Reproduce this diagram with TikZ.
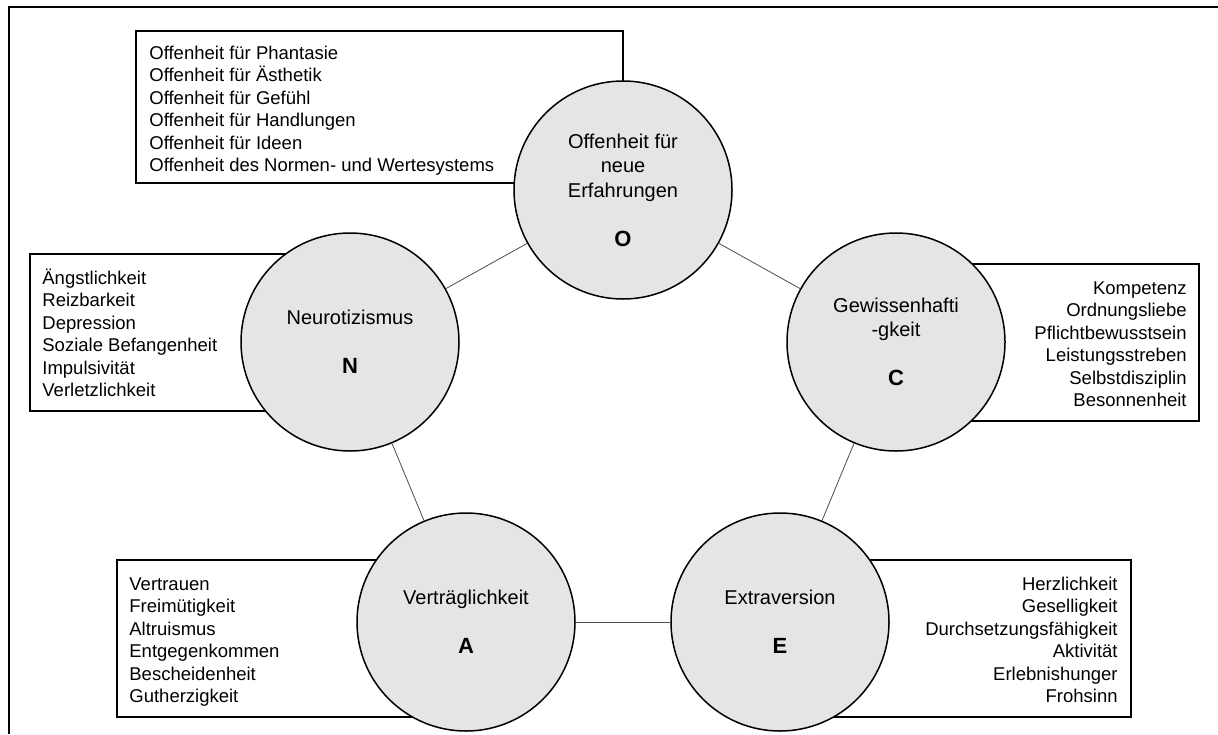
\documentclass[tikz,border=0pt]{standalone}
\usepackage{fontspec}
\setmainfont{Liberation Sans}
\usepackage{tikz}

\begin{document}
\begin{tikzpicture}[
  x=0.5pt, y=-0.5pt,
  font=\fontsize{9.25}{11.2}\selectfont,
  trait/.style={circle, draw, line width=0.75pt, fill=gray!20, minimum size=109pt, inner sep=0pt, align=center, font=\fontsize{10}{12.25}\selectfont},
  facetbox/.style={draw, line width=0.9pt, fill=white},
  facetsl/.style={anchor=north west, align=left, inner sep=0pt},
  facetsr/.style={anchor=north east, align=right, inner sep=0pt},
  link/.style={line width=0.4pt, draw=black!70}
]
\useasboundingbox (0,0) rectangle (1218,734);
\draw[line width=1pt] (9,734) -- (9,7) -- (1218,7);

% facet boxes (partly behind the circles)
\draw[facetbox] (136,31) rectangle (623,183);
\draw[facetbox] (30,254) rectangle (350,411);
\draw[facetbox] (896,264) rectangle (1199,421);
\draw[facetbox] (117,560) rectangle (466,717);
\draw[facetbox] (780,560) rectangle (1131,717);

\node[facetsl] (olist) at (149,41) {\rule{0pt}{9pt}Offenheit für Phantasie\\Offenheit für Ästhetik\\Offenheit für Gefühl\\Offenheit für Handlungen\\Offenheit für Ideen\\Offenheit des Normen- und Wertesystems};
\node[facetsl] (nlist) at (42,266) {\rule{0pt}{9pt}Ängstlichkeit\\Reizbarkeit\\Depression\\Soziale Befangenheit\\Impulsivität\\Verletzlichkeit};
\node[facetsr] (clist) at (1187,276) {\rule{0pt}{9pt}Kompetenz\\Ordnungsliebe\\Pflichtbewusstsein\\Leistungsstreben\\Selbstdisziplin\\Besonnenheit};
\node[facetsl] (alist) at (129,572) {\rule{0pt}{9pt}Vertrauen\\Freimütigkeit\\Altruismus\\Entgegenkommen\\Bescheidenheit\\Gutherzigkeit};
\node[facetsr] (elist) at (1118,572) {\rule{0pt}{9pt}Herzlichkeit\\Geselligkeit\\Durchsetzungsfähigkeit\\Aktivität\\Erlebnishunger\\Frohsinn};

% the five factors
\node[trait] (O) at (623,190) {Offenheit für\\neue\\Erfahrungen\\[12.25pt]{\fontsize{11}{12.25}\bfseries O}};
\node[trait] (N) at (350,342) {Neurotizismus\\[12.25pt]{\fontsize{11}{12.25}\bfseries N}};
\node[trait] (C) at (896,342) {Gewissenhafti\\-gkeit\\[12.25pt]{\fontsize{11}{12.25}\bfseries C}};
\node[trait] (A) at (466,622) {Verträglichkeit\\[12.25pt]{\fontsize{11}{12.25}\bfseries A}};
\node[trait] (E) at (780,622) {Extraversion\\[12.25pt]{\fontsize{11}{12.25}\bfseries E}};

\draw[link] (O) -- (N);
\draw[link] (O) -- (C);
\draw[link] (N) -- (A);
\draw[link] (C) -- (E);
\draw[link] (A) -- (E);
\end{tikzpicture}
\end{document}
